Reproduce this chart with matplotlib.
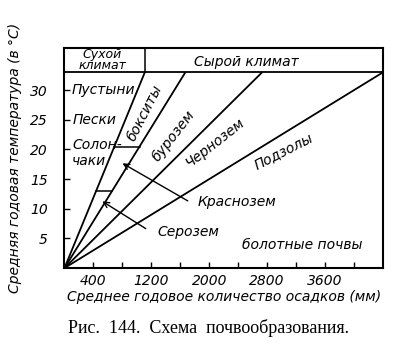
import numpy as np
import matplotlib.pyplot as plt

plt.rcParams['font.family'] = ['DejaVu Sans']

# граничные линии: из начала координат до верхней границы (T = 33)
t_top = 33
x_top = [1110, 1670, 2730, 4400]

# короткие горизонтальные отрезки между 1-й и 2-й линиями
h_levels = [20.5, 13]

x_ticks = [400, 800, 1200, 1600, 2000, 2400, 2800, 3200, 3600, 4000]
x_labels = ['400', '', '1200', '', '2000', '', '2800', '', '3600', '']
y_ticks = [5, 10, 15, 20, 25, 30]

# подписи зон: текст, x, T, поворот
zone_labels = [
    ('бокситы', 1114, 26.1, 63),
    ('бурозем', 1502, 22.3, 52),
    ('Чернозем', 2083, 21.1, 38),
    ('Подзолы', 3024, 19.7, 27),
]
left_labels = [('Пустыни', 104, 30), ('Пески', 117, 25),
               ('Солон-', 104, 20.7), ('чаки', 104, 18.0)]
arrows = [('Краснозем', (1834, 11.1), (1737, 11.1), (768, 17.9)),
          ('Серозем', (1280, 6.0), (1156, 6.4), (491, 11.5))]

fig = plt.figure(figsize=(3.98, 3.56), dpi=100)
ax = fig.add_axes([0.162, 0.247, 0.8, 0.618])
ax.set_xlim(0, 4400)
ax.set_ylim(0, 37.1)

for xt in x_top:
    ax.plot([0, xt], [0, t_top], color='black', lw=1.3, solid_capstyle='butt')

for h in h_levels:
    ax.plot([x_top[0]*h/t_top, x_top[1]*h/t_top], [h, h], color='black', lw=1.1)

# шапка
ax.axhline(t_top, color='black', lw=1.3)
ax.plot([x_top[0], x_top[0]], [t_top, 37.1], color='black', lw=1.1)
ax.text(519, 35.1, 'Сухой\nклимат', ha='center', va='center', style='italic',
        fontsize=9, linespacing=0.85)
ax.text(2512, 34.8, 'Сырой климат', ha='center', va='center', style='italic', fontsize=10)

for s, x, y, r in zone_labels:
    ax.text(x, y, s, ha='center', va='center', rotation=r, style='italic', fontsize=10)

for s, x, y in left_labels:
    ax.text(x, y, s, ha='left', va='center', style='italic', fontsize=10)

for s, pos, tail, tip in arrows:
    ax.annotate('', xy=tip, xytext=tail,
                arrowprops=dict(arrowstyle='->', color='black', lw=1.0))
    ax.text(pos[0], pos[1], s, ha='left', va='center', style='italic', fontsize=10)

ax.text(2457, 3.9, 'болотные почвы', ha='left', va='center', style='italic', fontsize=10)

ax.set_xticks(x_ticks)
ax.set_xticklabels(x_labels)
ax.set_yticks(y_ticks)
ax.tick_params(direction='in', length=4, width=1, labelsize=10, pad=4)
for lab in ax.get_xticklabels() + ax.get_yticklabels():
    lab.set_style('italic')
ax.tick_params(axis='y', pad=12)
for sp in ax.spines.values():
    sp.set_linewidth(1.5)

ax.set_xlabel('Среднее годовое количество осадков (мм)', style='italic', fontsize=10, labelpad=2)
ax.set_ylabel('Средняя годовая температура (в °С)', style='italic', fontsize=10, labelpad=6)

fig.text(0.525, 0.08, 'Рис.  144.  Схема  почвообразования.', ha='center', va='center',
         family=['Liberation Serif', 'DejaVu Serif'], fontsize=13)

fig.savefig('out.png', dpi=100)
